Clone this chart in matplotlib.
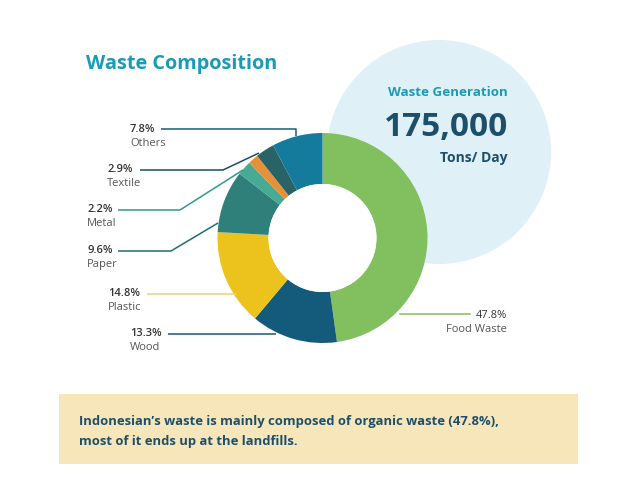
import matplotlib
matplotlib.use("Agg")
import matplotlib.pyplot as plt
from matplotlib.patches import Circle, Rectangle

plt.rcParams['font.family'] = ['Open Sans', 'DejaVu Sans']

categories = ["Food Waste", "Wood", "Plastic", "Paper", "Metal", "", "Textile", "Others"]
values = [47.8, 13.3, 14.8, 9.6, 2.2, 1.6, 2.9, 7.8]
colors = ["#82bf5e", "#135a7b", "#ecc21c", "#2f7f7a", "#46aa95", "#e69138", "#2a6366", "#147b9c"]
pct_labels = ["47.8%", "13.3%", "14.8%", "9.6%", "2.2%", "", "2.9%", "7.8%"]

W, H = 640, 494
fig = plt.figure(figsize=(6.4, 4.94), dpi=100)
ax = fig.add_axes([0, 0, 1, 1])

def Y(y):
    return H - y

# background circle
ax.add_patch(Circle((439, Y(152)), 112, facecolor="#dff0f6", edgecolor="none", zorder=0))

# donut
cx, cy, R = 322.5, Y(238), 105
wedges, _ = ax.pie(values, colors=colors, startangle=90, counterclock=False,
                   center=(cx, cy), radius=R,
                   wedgeprops=dict(width=R - 54, edgecolor="none", linewidth=0),
                   frame=True)
ax.add_patch(Circle((cx, cy), 54, facecolor="white", edgecolor="none", zorder=3))
ax.set_xlim(0, W)
ax.set_ylim(0, H)
ax.set_aspect('equal')
ax.axis('off')

dark = "#1d4f6b"
teal = "#1a9bb5"
gray = "#555555"

# Title
ax.text(86, Y(64), "Waste Composition", fontsize=14.3, fontweight="bold", color=teal,
        ha="left", va="center")

# Waste generation
ax.text(508, Y(93), "Waste Generation", fontsize=9.6, fontweight="bold", color=teal,
        ha="right", va="center")
ax.text(508, Y(128), "175,000", fontsize=24, fontweight="bold", color=dark,
        ha="right", va="center")
ax.text(508, Y(158), "Tons/ Day", fontsize=10, fontweight="bold", color=dark,
        ha="right", va="center")

label_specs = {
    7: dict(x=130, y=129, line=[(161, 129), (296, 129), (296, 136)], color="#1b5c75"),
    6: dict(x=107, y=170, line=[(140, 170), (223, 170), (259, 153)], color="#1b4f5e"),
    4: dict(x=87, y=210, line=[(118, 210), (180, 210), (243, 170)], color="#2e9b8a"),
    3: dict(x=87, y=251, line=[(118, 251), (171, 251), (218, 223)], color="#1f6e70"),
    2: dict(x=108, y=294, line=[(147, 294), (236, 294)], color="#ecd27a"),
    1: dict(x=130, y=334, line=[(168, 334), (276, 334)], color="#135a7b"),
}
for i, s in label_specs.items():
    ax.text(s["x"], Y(s["y"]), pct_labels[i], fontsize=8, fontweight="semibold", color="#333333",
            ha="left", va="center")
    ax.text(s["x"], Y(s["y"] + 14), categories[i], fontsize=8, color=gray,
            ha="left", va="center")
    xs = [p[0] for p in s["line"]]
    ys = [Y(p[1]) for p in s["line"]]
    ax.plot(xs, ys, color=s["color"], lw=1.1, zorder=1, solid_capstyle="butt")

# Food waste label
ax.plot([400, 470], [Y(314), Y(314)], color="#82bf5e", lw=1.1, zorder=1)
ax.text(507, Y(316), pct_labels[0], fontsize=8, color="#333333", ha="right", va="center")
ax.text(507, Y(330), categories[0], fontsize=8, color=gray, ha="right", va="center")

# Bottom box
ax.add_patch(Rectangle((59, Y(464)), 519, 70, facecolor="#f7e6b9", edgecolor="none", zorder=0))
ax.text(79, Y(421), "Indonesian\u2019s waste is mainly composed of organic waste (47.8%),",
        fontsize=9.4, fontweight="bold", color=dark, ha="left", va="center")
ax.text(79, Y(442), "most of it ends up at the landfills.",
        fontsize=9.4, fontweight="bold", color=dark, ha="left", va="center")

fig.savefig("out.png", dpi=100, facecolor="white")
